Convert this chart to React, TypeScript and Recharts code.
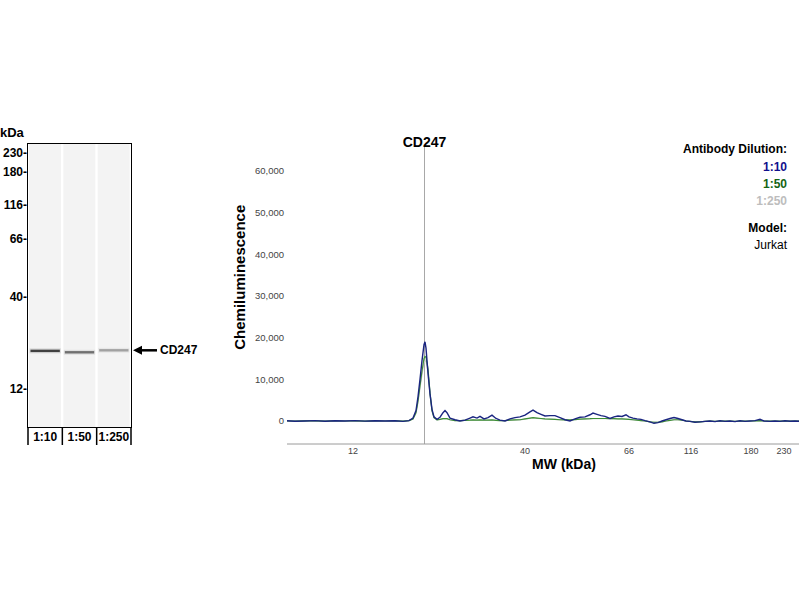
import { Bar, ComposedChart, Label, Line, LineChart, ReferenceLine, Scatter, XAxis, YAxis } from 'recharts';

const FONT = 'Arial, "Liberation Sans", Helvetica, sans-serif';

// gel (virtual blot) lanes
const lanes = ['1:10', '1:50', '1:250'];
const bandPos = [73.1, 73.6, 72.9];
const bandSignal = [0.7, 0.5, 0.3];
const markerKda = [230, 180, 116, 66, 40, 12];
const markerPos = [3.2, 9.9, 21.5, 33.6, 53.9, 86.6];
const target = 'CD247';

// electropherogram
const mwTickKda = [12, 40, 66, 116, 180, 230];
const mwTickPos = [66, 238, 342, 404, 464, 497];
const targetPos = 137.5;
const countTicks = [0, 10000, 20000, 30000, 40000, 50000, 60000];
const dilutions = ['1:10', '1:50', '1:250'];
const dilutionColors = ['#1a2580', '#3d8f35', '#cfcfcf'];
const dilutionLabelColors = ['#10108c', '#146414', '#bdbdbd'];

const migration = [
  0, 8, 18, 28, 38, 48, 58, 68, 78, 88,
  98, 108, 116, 122, 126, 129, 131, 133, 135, 137,
  138, 139, 141, 143, 145, 147, 150, 153, 156, 158,
  160, 163, 168, 173, 178, 183, 186, 190, 193, 197,
  201, 205, 209, 213, 218, 223, 228, 233, 238, 243,
  246, 250, 254, 258, 263, 268, 273, 278, 283, 288,
  293, 298, 303, 306, 310, 314, 318, 323, 327, 331,
  335, 339, 342, 346, 350, 354, 358, 363, 367, 371,
  375, 379, 383, 387, 391, 395, 399, 403, 408, 413,
  418, 423, 428, 433, 438, 443, 448, 453, 458, 463,
  468, 473, 477, 483, 488, 493, 498, 503, 508, 512,
];

const dil10 = [
  50, -50, 0, 100, -50, 50, 0, 80, -30, 50,
  0, 60, -80, 100, 700, 2500, 5800, 10000, 14500, 18300,
  19000, 17500, 11500, 6500, 2800, 1000, 400, 900, 2000, 2500,
  2000, 700, 300, 0, 200, 700, 1000, 700, 1100, 500,
  800, 1400, 600, 200, 0, 500, 800, 1000, 1400, 2200,
  2600, 2000, 1600, 1200, 1300, 1300, 800, 300, 0, 500,
  900, 1000, 1500, 1900, 1600, 1300, 1100, 600, 1000, 1200,
  1100, 1500, 1000, 700, 500, 400, 100, -200, -550, -400,
  0, 300, 600, 850, 600, 300, 0, -100, -300, -200,
  -100, 0, -150, 50, -100, 0, -150, 50, -100, 0,
  100, 400, 0, -100, 0, -100, 50, -50, 0, -50,
];

const dil50 = [
  0, -30, 20, 40, -20, 30, 0, 40, -20, 20,
  0, 30, -40, 80, 500, 2000, 4800, 8500, 12000, 15000,
  15500, 15300, 12500, 6800, 2500, 800, 300, 400, 550, 600,
  550, 300, 100, 100, 150, 200, 250, 200, 250, 200,
  200, 250, 150, 100, 100, 200, 250, 300, 500, 700,
  800, 700, 600, 500, 450, 400, 300, 250, 250, 350,
  450, 500, 550, 600, 600, 600, 600, 550, 550, 500,
  500, 450, 400, 300, 200, 100, 0, -200, -300, -300,
  -200, 0, 150, 300, 300, 200, 0, -100, -200, -200,
  -100, -50, -100, 0, -50, 0, -80, 0, -50, 0,
  50, 100, 0, -50, 0, -50, 0, -30, 0, -30,
];

const dil250 = [
  0, -30, 20, 40, -20, 30, 0, 40, -20, 20,
  0, 30, -40, 80, 450, 1800, 4400, 7900, 11200, 14000,
  14500, 14300, 11800, 6400, 2300, 750, 280, 380, 500, 550,
  500, 280, 100, 100, 140, 180, 230, 190, 230, 190,
  190, 230, 140, 100, 100, 190, 230, 280, 470, 650,
  750, 650, 560, 470, 420, 380, 280, 240, 240, 330,
  420, 470, 520, 560, 560, 560, 560, 520, 520, 470,
  470, 420, 380, 280, 190, 100, 0, -190, -280, -280,
  -190, 0, 140, 280, 280, 190, 0, -100, -190, -190,
  -100, -50, -100, 0, -50, 0, -80, 0, -50, 0,
  50, 100, 0, -50, 0, -50, 0, -30, 0, -30,
];

const gelData = lanes.map((lane, i) => ({ lane, full: 100, pos: bandPos[i], signal: bandSignal[i] }));
const traceData = migration.map((m, i) => ({ m, d10: dil10[i], d50: dil50[i], d250: dil250[i] }));

const GEL_W = 200;
const GEL_H = 340;
const GEL_TOP = 120;
const GEL_AXIS_W = 28;
const GEL_RIGHT = 69;
const GEL_MARGIN_TOP = 24;
const GEL_MARGIN_BOTTOM = 13;
const GEL_XAXIS_H = 20;
const LANE_W = (GEL_W - GEL_AXIS_W - GEL_RIGHT) / lanes.length;
const GEL_PLOT_H = GEL_H - GEL_MARGIN_TOP - GEL_MARGIN_BOTTOM - GEL_XAXIS_H;

function Band(props: any) {
  const { cx, cy, payload } = props;
  const half = LANE_W / 2 - 1.5;
  const a = payload.signal;
  const last = payload.lane === lanes[lanes.length - 1];
  const tip = cx + LANE_W / 2 + 2;
  return (
    <g>
      <rect x={cx - half} y={cy - 2.5} width={half * 2} height={5} fill="#000" opacity={a * 0.16} />
      <rect x={cx - half + 1} y={cy - 1.2} width={half * 2 - 2} height={2.4} fill="#000" opacity={a} />
      {last && (
        <g>
          <line x1={tip + 6} x2={tip + 24} y1={cy} y2={cy} stroke="#000" strokeWidth={2.5} />
          <polygon points={`${tip},${cy} ${tip + 9},${cy - 4.5} ${tip + 9},${cy + 4.5}`} fill="#000" />
          <text x={tip + 27} y={cy} dominantBaseline="central" fontSize={12} fontWeight={700} fontFamily={FONT}>
            {target}
          </text>
        </g>
      )}
    </g>
  );
}

function LaneTick(props: any) {
  const { x, y, payload, index } = props;
  const left = x - LANE_W / 2;
  return (
    <g>
      <line x1={left} x2={left} y1={y} y2={y + 18} stroke="#000" strokeWidth={1.5} />
      {index === lanes.length - 1 && (
        <line x1={left + LANE_W} x2={left + LANE_W} y1={y} y2={y + 18} stroke="#000" strokeWidth={1.5} />
      )}
      <text x={x} y={y + 14} textAnchor="middle" fontSize={12} fontWeight={700} fontFamily={FONT} fill="#000">
        {payload.value}
      </text>
    </g>
  );
}

const legendRows = [
  { text: 'Antibody Dilution:', color: '#000', bold: true, y: 149 },
  { text: dilutions[0], color: dilutionLabelColors[0], bold: true, y: 167 },
  { text: dilutions[1], color: dilutionLabelColors[1], bold: true, y: 184 },
  { text: dilutions[2], color: dilutionLabelColors[2], bold: true, y: 201 },
  { text: 'Model:', color: '#000', bold: true, y: 228 },
  { text: 'Jurkat', color: '#000', bold: false, y: 245 },
];

export default function App() {
  return (
    <div style={{ position: 'absolute', left: 0, top: 0, width: 800, height: 600, background: '#fff', fontFamily: FONT, overflow: 'hidden' }}>
      <div style={{ position: 'absolute', left: 0, top: 125, fontSize: 13, fontWeight: 700, lineHeight: '16px' }}>kDa</div>

      <div style={{ position: 'absolute', left: 0, top: GEL_TOP }}>
        <ComposedChart
          width={GEL_W}
          height={GEL_H}
          data={gelData}
          margin={{ top: GEL_MARGIN_TOP, right: GEL_RIGHT, bottom: GEL_MARGIN_BOTTOM, left: 0 }}
          barCategoryGap={1}
        >
          <XAxis dataKey="lane" type="category" axisLine={false} tickLine={false} tickSize={0} tickMargin={0} height={GEL_XAXIS_H} tick={LaneTick} interval={0} />
          <YAxis
            type="number"
            domain={[0, 100]}
            reversed
            ticks={markerPos}
            interval={0}
            width={GEL_AXIS_W}
            axisLine={false}
            tickLine={false}
            tickSize={0}
            tickMargin={1}
            tickFormatter={(v: number) => `${markerKda[markerPos.indexOf(v)]}-`}
            tick={{ fontSize: 12, fontWeight: 700, fill: '#000', fontFamily: FONT }}
          />
          <Bar dataKey="full" fill="#f3f3f3" isAnimationActive={false} />
          <Scatter dataKey="pos" shape={Band} isAnimationActive={false} />
        </ComposedChart>
      </div>
      {/* gel frame over the plot area */}
      <div
        style={{
          position: 'absolute',
          left: GEL_AXIS_W - 0.75,
          top: GEL_TOP + GEL_MARGIN_TOP - 0.75,
          width: LANE_W * lanes.length + 1.5,
          height: GEL_PLOT_H + 1.5,
          border: '1.5px solid #000',
          boxSizing: 'border-box',
          pointerEvents: 'none',
        }}
      />

      <div style={{ position: 'absolute', left: 220, top: 120 }}>
        <LineChart width={580} height={360} data={traceData} margin={{ top: 26.5, right: 1, bottom: 6, left: 0 }}>
          <XAxis
            type="number"
            dataKey="m"
            domain={[0, 512]}
            ticks={mwTickPos}
            interval={0}
            allowDataOverflow
            tickFormatter={(v: number) => String(mwTickKda[mwTickPos.indexOf(v)])}
            axisLine={{ stroke: '#9a9a9a' }}
            tickLine={false}
            tickSize={0}
            tickMargin={4}
            height={30}
            tick={{ fontSize: 9, fill: '#444', fontFamily: FONT }}
          >
            <Label value="MW (kDa)" position="insideBottom" offset={5} dx={21} fontSize={14} fontWeight={700} fill="#000" fontFamily={FONT} />
          </XAxis>
          <YAxis
            type="number"
            domain={[-5520, 65880]}
            ticks={countTicks}
            interval={0}
            allowDataOverflow
            width={67}
            axisLine={false}
            tickLine={false}
            tickSize={0}
            tickMargin={3}
            tickFormatter={(v: number) => v.toLocaleString('en-US')}
            tick={{ fontSize: 9.5, fill: '#444', fontFamily: FONT }}
          >
            <Label
              content={(p: any) => {
                const vb = p.viewBox || { x: 0, y: 0, height: 0 };
                const cx = vb.x + 19;
                const cy = vb.y + vb.height / 2 - 18;
                return (
                  <text
                    x={cx}
                    y={cy}
                    transform={`rotate(-90, ${cx}, ${cy})`}
                    textAnchor="middle"
                    dominantBaseline="central"
                    fontSize={15}
                    fontWeight={700}
                    fontFamily={FONT}
                    fill="#000"
                  >
                    Chemiluminescence
                  </text>
                );
              }}
            />
          </YAxis>
          <ReferenceLine
            x={targetPos}
            stroke="#a8a8a8"
            strokeWidth={1}
            label={{ value: target, position: 'top', offset: 0, fontSize: 14, fontWeight: 700, fill: '#000', fontFamily: FONT }}
          />
          <Line type="linear" dataKey="d250" stroke={dilutionColors[2]} strokeWidth={1.2} dot={false} isAnimationActive={false} />
          <Line type="linear" dataKey="d50" stroke={dilutionColors[1]} strokeWidth={1.2} dot={false} isAnimationActive={false} />
          <Line type="linear" dataKey="d10" stroke={dilutionColors[0]} strokeWidth={1.4} dot={false} isAnimationActive={false} />
        </LineChart>
      </div>

      {legendRows.map((r) => (
        <div
          key={r.text}
          style={{
            position: 'absolute',
            right: 13,
            top: r.y - 8,
            fontSize: 12,
            lineHeight: '16px',
            fontWeight: r.bold ? 700 : 400,
            color: r.color,
            whiteSpace: 'nowrap',
          }}
        >
          {r.text}
        </div>
      ))}
    </div>
  );
}
